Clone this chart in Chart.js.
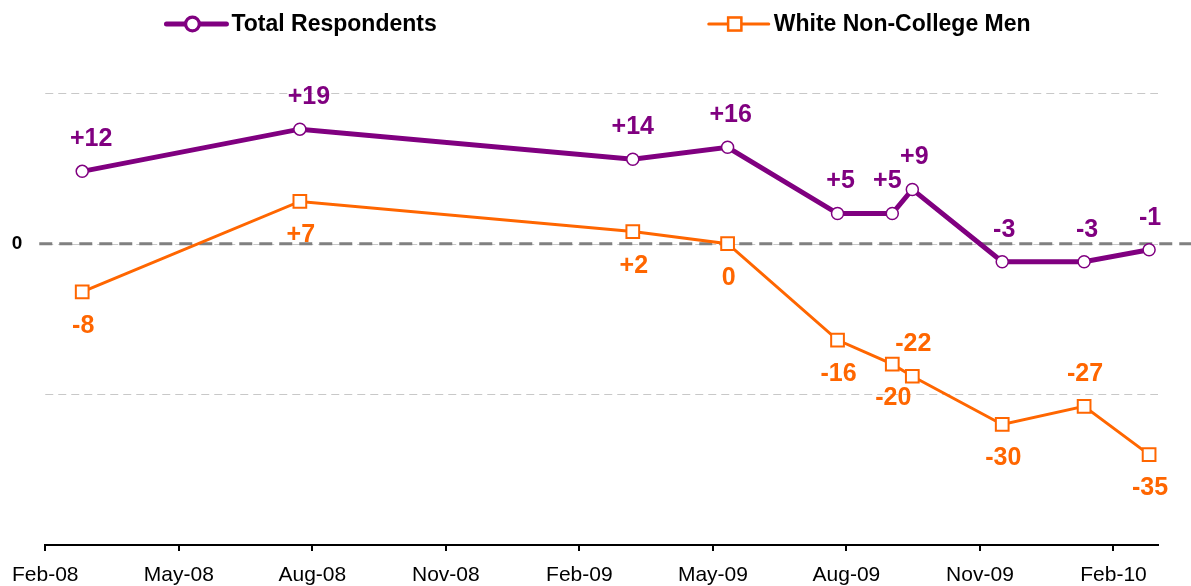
<!DOCTYPE html>
<html lang="en">
<head>
    <meta charset="UTF-8">
    <title>Total Respondents vs White Non-College Men</title>
    <script src="https://cdn.jsdelivr.net/npm/chart.js"></script>
    <style>
        body { margin: 0; background: #fff; }
        #wrap { width: 1191px; height: 586px; }
    </style>
</head>
<body>
    <div id="wrap"><canvas id="netChart"></canvas></div>

    <script>
        // survey dates, as months after Feb 2008 (0 = Feb-08)
        const surveyMonths = [0.83, 5.72, 13.2, 15.33, 17.8, 19.03, 19.48, 21.5, 23.34, 24.8];
        const totalRespondents = [12, 19, 14, 16, 5, 5, 9, -3, -3, -1];
        const whiteNonCollegeMen = [-8, 7, 2, 0, -16, -20, -22, -30, -27, -35];

        const monthTicks = [0, 3, 6, 9, 12, 15, 18, 21, 24];
        const monthNames = ['Jan', 'Feb', 'Mar', 'Apr', 'May', 'Jun', 'Jul', 'Aug', 'Sep', 'Oct', 'Nov', 'Dec'];
        const valueTicks = [25, 0, -25];

        // where each value label sits relative to its point
        const totalLabelSide = ['above', 'above', 'above', 'above', 'above', 'above', 'above', 'above', 'above', 'above'];
        const wncmLabelSide = ['below', 'below', 'below', 'below', 'below', 'below', 'above', 'below', 'above', 'below'];
        const totalLabelDx = [9, 9, 0, 3, 3, -5, 2, 2, 3, 1];

        const PURPLE = '#800080';
        const ORANGE = '#ff6600';
        const FONT = '"Liberation Sans", Arial, sans-serif';

        function monthLabel(v) {
            const m = 1 + v;
            const yr = 2008 + Math.floor(m / 12);
            return monthNames[m % 12] + '-' + String(yr).slice(2);
        }

        function fmt(v) {
            return v > 0 ? '+' + v : String(v);
        }

        function toPoints(values) {
            return values.map((v, i) => ({ x: surveyMonths[i], y: v }));
        }

        const gridPlugin = {
            id: 'dashGrid',
            beforeDatasetsDraw(chart) {
                const { ctx, chartArea, scales } = chart;
                ctx.save();
                valueTicks.forEach(v => {
                    const y = Math.round(scales.y.getPixelForValue(v)) + 0.5;
                    ctx.strokeStyle = '#c8c8c8';
                    ctx.lineWidth = 1;
                    ctx.setLineDash([8, 5]);
                    ctx.beginPath();
                    ctx.moveTo(chartArea.left, y);
                    ctx.lineTo(chartArea.right, y);
                    ctx.stroke();
                });
                // heavier dashed zero line, running past the plot on both sides
                const y0 = scales.y.getPixelForValue(0);
                ctx.strokeStyle = '#808080';
                ctx.lineWidth = 3;
                ctx.setLineDash([13, 7]);
                ctx.beginPath();
                ctx.moveTo(chartArea.left - 6, y0);
                ctx.lineTo(chart.width, y0);
                ctx.stroke();
                ctx.restore();
            }
        };

        const labelPlugin = {
            id: 'valueLabels',
            afterDatasetsDraw(chart) {
                const ctx = chart.ctx;
                ctx.save();
                ctx.font = 'bold 25px ' + FONT;
                ctx.textAlign = 'center';
                ctx.textBaseline = 'middle';
                chart.data.datasets.forEach((ds, di) => {
                    const sides = di === 0 ? totalLabelSide : wncmLabelSide;
                    chart.getDatasetMeta(di).data.forEach((pt, i) => {
                        const dx = di === 0 ? totalLabelDx[i] : 1;
                        const dy = sides[i] === 'above' ? -32 : 34;
                        ctx.fillStyle = ds.borderColor;
                        ctx.fillText(fmt(ds.data[i].y), pt.x + dx, pt.y + dy);
                    });
                });
                ctx.restore();
            }
        };

        const legendPlugin = {
            id: 'lineLegend',
            afterDraw(chart) {
                const ctx = chart.ctx;
                ctx.save();
                ctx.font = 'bold 23px ' + FONT;
                ctx.textBaseline = 'middle';
                const items = chart.data.datasets.map(ds => ({
                    ds: ds,
                    w: 65 + ctx.measureText(ds.label).width
                }));
                const gap = 272;
                let x = (chart.width - (items[0].w + gap + items[1].w)) / 2 + 3;
                const y = 24;
                items.forEach(it => {
                    const ds = it.ds;
                    ctx.strokeStyle = ds.borderColor;
                    ctx.lineWidth = ds.borderWidth;
                    ctx.lineCap = 'round';
                    ctx.beginPath();
                    ctx.moveTo(x, y);
                    ctx.lineTo(x + 60, y);
                    ctx.stroke();
                    Chart.helpers.drawPoint(ctx, {
                        pointStyle: ds.pointStyle,
                        radius: ds.pointRadius,
                        borderWidth: ds.pointBorderWidth
                    }, x + 26, y);
                    ctx.fillStyle = '#fff';
                    ctx.strokeStyle = ds.borderColor;
                    ctx.lineWidth = ds.pointBorderWidth;
                    ctx.fill();
                    ctx.stroke();
                    ctx.fillStyle = '#000';
                    ctx.textAlign = 'left';
                    ctx.fillText(ds.label, x + 65, y + 1);
                    x += it.w + gap;
                });
                ctx.restore();
            }
        };

        const ctx = document.getElementById('netChart').getContext('2d');
        new Chart(ctx, {
            type: 'line',
            data: {
                datasets: [{
                    label: 'Total Respondents',
                    data: toPoints(totalRespondents),
                    borderColor: PURPLE,
                    borderWidth: 5,
                    pointStyle: 'circle',
                    pointRadius: 6,
                    pointBorderWidth: 1.5,
                    pointBackgroundColor: '#fff',
                    pointBorderColor: PURPLE,
                    tension: 0
                }, {
                    label: 'White Non-College Men',
                    data: toPoints(whiteNonCollegeMen),
                    borderColor: ORANGE,
                    borderWidth: 3,
                    pointStyle: 'rect',
                    pointRadius: 9,
                    pointBorderWidth: 2,
                    pointBackgroundColor: '#fff',
                    pointBorderColor: ORANGE,
                    tension: 0
                }]
            },
            options: {
                responsive: true,
                maintainAspectRatio: false,
                animation: false,
                layout: { padding: { top: 93, right: 33, left: 0, bottom: 0 } },
                plugins: {
                    legend: { display: false },
                    tooltip: { enabled: false }
                },
                scales: {
                    x: {
                        type: 'linear',
                        min: 0,
                        max: 25,
                        afterBuildTicks: s => { s.ticks = monthTicks.map(v => ({ value: v })); },
                        afterFit: s => { s.height = 41; },
                        grid: {
                            drawOnChartArea: false,
                            drawTicks: true,
                            tickLength: 6,
                            color: '#000',
                            lineWidth: 2
                        },
                        border: { display: true, color: '#000', width: 2 },
                        ticks: {
                            padding: 12,
                            maxRotation: 0,
                            autoSkip: false,
                            color: '#000',
                            font: { family: FONT, size: 21 },
                            callback: v => monthLabel(v)
                        }
                    },
                    y: {
                        min: -50,
                        max: 25,
                        afterFit: s => { s.width = 44; },
                        grid: { display: false, drawTicks: false },
                        border: { display: false },
                        ticks: {
                            stepSize: 25,
                            padding: 23,
                            color: '#000',
                            font: { family: FONT, size: 19, weight: 'bold' },
                            callback: v => v === 0 ? '0' : ''
                        }
                    }
                }
            },
            plugins: [gridPlugin, labelPlugin, legendPlugin]
        });
    </script>
</body>
</html>
